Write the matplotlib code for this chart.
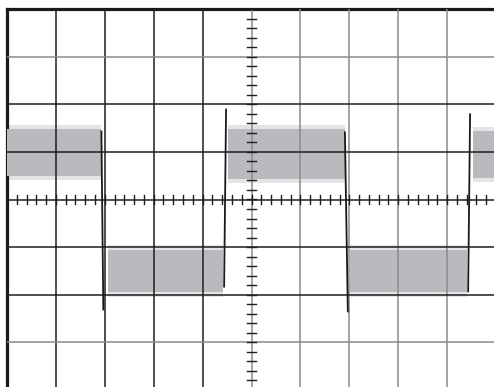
import numpy as np
import matplotlib.pyplot as plt

# scope screen: 10 x 8 divisions
# noise bands of the square wave (div units)
seg_start = [0.0, 2.07, 4.52, 7.01, 9.53]
seg_end = [1.92, 4.42, 6.91, 9.41, 10.0]
band_top = [1.47, -1.05, 1.47, -1.05, 1.43]
band_bot = [0.50, -1.95, 0.44, -1.95, 0.46]
spike = 0.09

# fast edges drawn in black (x at top/bottom end, y at top/bottom end)
edge_x_top = [1.93, 4.48, 6.91, 9.47]
edge_x_bot = [1.97, 4.44, 6.97, 9.43]
edge_y_top = [1.43, 1.89, 1.41, 1.79]
edge_y_bot = [-2.31, -1.83, -2.35, -1.93]

vlines = [1, 2, 3, 4, 5, 6, 7, 8, 9]
vline_col = ['#1e1e1e'] * 4 + ['#8a8a8a'] * 5
hlines = [3, 2, 1, 0, -1, -2, -3]
hline_col = ['#8a8a8a', '#1e1e1e', '#1e1e1e', '#1e1e1e', '#1e1e1e', '#1e1e1e', '#8a8a8a']

fig = plt.figure(figsize=(4.94, 3.87), dpi=100)
ax = fig.add_axes([7 / 494, -3 / 387, 489 / 494, 381 / 387])
ax.set_xlim(0, 10)
ax.set_ylim(-4, 4)

for x, c in zip(vlines, vline_col):
    ax.axvline(x, color=c, lw=1.1, zorder=5)
for y, c in zip(hlines, hline_col):
    ax.axhline(y, color=c, lw=1.1, zorder=5)

# minor ticks on centre axes
minor = np.arange(0.2, 10, 0.2)
ax.plot(np.repeat(minor, 3), np.tile([0.095, -0.095, np.nan], len(minor)),
        color='#1e1e1e', lw=1.0, zorder=5)
minor_y = np.arange(-4, 4.01, 0.2)
ax.plot(np.tile([4.9, 5.1, np.nan], len(minor_y)), np.repeat(minor_y, 3),
        color='#1e1e1e', lw=1.0, zorder=5)

for s, e, t, b in zip(seg_start, seg_end, band_top, band_bot):
    ax.fill_between([s, e], t + spike, b - spike, color='#e4e4e6', lw=0, zorder=2)
    ax.fill_between([s, e], t, b, color='#b9babe', lw=0, zorder=3)

for xt, xb, yt, yb in zip(edge_x_top, edge_x_bot, edge_y_top, edge_y_bot):
    ax.plot([xb, xt], [yb, yt], color='#1a1a1a', lw=1.3, zorder=6)

ax.set_xticks([])
ax.set_yticks([])
for side in ['right', 'bottom']:
    ax.spines[side].set_visible(False)
for side in ['top', 'left']:
    ax.spines[side].set_linewidth(2.3)
    ax.spines[side].set_color('#1a1a1a')

fig.savefig('out.png', dpi=100)
